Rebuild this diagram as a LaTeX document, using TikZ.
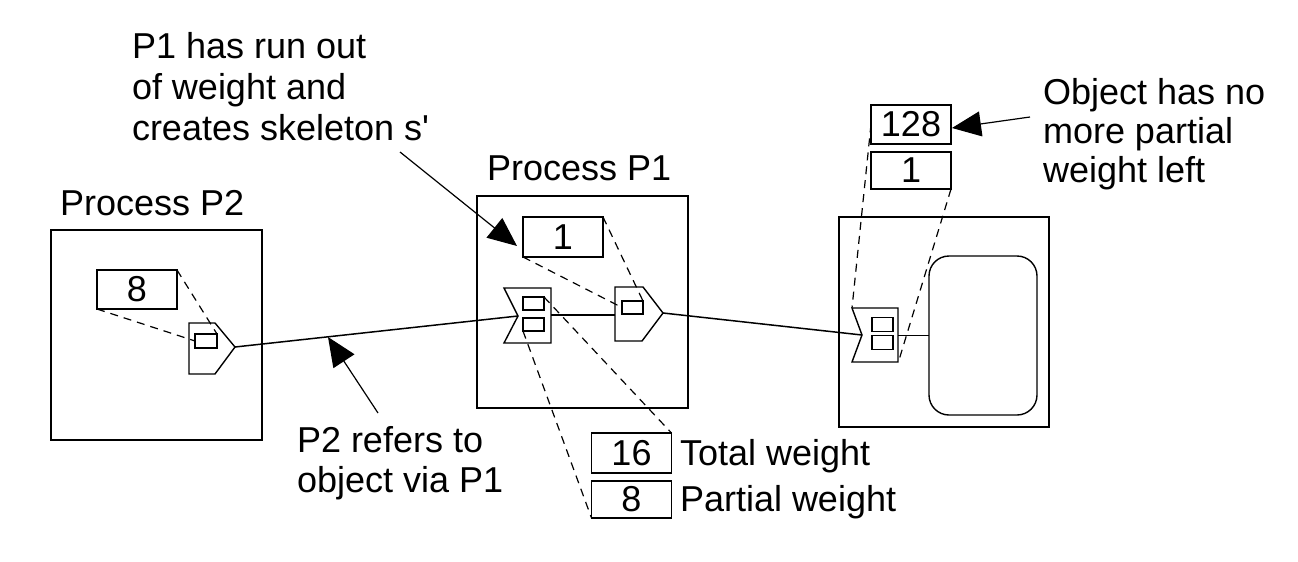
\documentclass[tikz,border=0pt]{standalone}
\usepackage{fontspec}
\setmainfont{Liberation Sans}
\usetikzlibrary{arrows.meta}
\begin{document}
\begin{tikzpicture}[x=1pt,y=-1pt,
  txt/.style={inner sep=0pt, outer sep=0pt, anchor=base west, font=\fontsize{36}{40}\selectfont},
  proc/.style={draw, line width=1.6pt, inner sep=0pt, outer sep=0pt, anchor=north west},
  valbox/.style={draw, line width=1.5pt, inner sep=0pt, outer sep=0pt, minimum width=80pt, font=\fontsize{36}{40}\selectfont},
  sref/.style={draw, line width=1.4pt, line join=miter},
  srect/.style={draw, line width=1.3pt, inner sep=0pt, outer sep=0pt, minimum width=21pt, minimum height=13pt},
  conn/.style={line width=1.5pt},
  dsh/.style={line width=1.2pt, dash pattern=on 8pt off 6pt},
  lbl/.style={line width=1.2pt, -{Triangle[length=29pt,width=25pt]}}
]
\useasboundingbox (0,0) rectangle (1298,562);
\fill[white] (0,0) rectangle (1298,562);

% process boxes
\node[proc, minimum width=211pt, minimum height=210pt] (P2) at (51,230) {};
\node[proc, minimum width=211pt, minimum height=212pt] (P1) at (477,196) {};
\node[proc, minimum width=210pt, minimum height=210pt] (OB) at (839,217) {};
\node[draw, line width=1.4pt, rounded corners=20pt, minimum width=108pt, minimum height=159pt, anchor=north west, inner sep=0pt, outer sep=0pt] (obj) at (929,256) {};

% value boxes
\node[valbox, minimum height=39pt] (v8) at (137,289.5) {8};
\node[valbox, minimum height=40pt] (v1) at (563,237) {1};
\node[valbox, minimum height=40pt] (v16) at (631.5,453) {16};
\node[valbox, minimum height=37pt] (v8b) at (631.5,499.5) {8};
\node[valbox, minimum height=39pt] (v128) at (911,124.5) {128};
\node[valbox, minimum height=37pt] (v1b) at (911,170.5) {1};

% P2 stub
\coordinate (p2tip) at (235,347);
\draw[sref] (189,323) -- (215,323) -- (p2tip) -- (215,374) -- (189,374) -- cycle;
\node[srect, minimum width=22pt, minimum height=14pt] (p2r) at (206,341) {};

% P1 scion
\coordinate (p1notch) at (518,316);
\coordinate (p1scE) at (551,315);
\draw[sref] (504,288) -- (551,288) -- (551,343) -- (504,343) -- (p1notch) -- cycle;
\node[srect] (p1ru) at (533.5,303.5) {};
\node[srect] (p1rl) at (533.5,324.5) {};

% P1 stub
\coordinate (p1stW) at (615,315);
\coordinate (p1tip) at (663,313);
\draw[sref] (615,287) -- (643,287) -- (p1tip) -- (642,341) -- (615,341) -- cycle;
\node[srect] (p1sr) at (632.5,307.5) {};

% object scion
\coordinate (obnotch) at (862,335);
\coordinate (obscE) at (898,335.5);
\coordinate (obNW) at (852,308);
\coordinate (obSE) at (899,360);
\draw[sref] (852,308) -- (898,308) -- (898,362) -- (852,362) -- (obnotch) -- cycle;
\node[srect, minimum height=14pt] (obru) at (882.5,324.5) {};
\node[srect, minimum height=14pt] (obrl) at (882.5,342.5) {};

% connectors
\draw[conn] (p2tip) -- (p1notch);
\draw[conn] (p1scE) -- (p1stW);
\draw[conn] (p1tip) -- (obnotch);
\draw[conn] (obscE) -- (obj.west);

% dashed
\draw[dsh] (v8.north east) -- (p2r.north east);
\draw[dsh] (v8.south west) -- (p2r.west);
\draw[dsh] (v1.north east) -- (p1sr.north east);
\draw[dsh] (v1.south west) -- (p1sr.west);
\draw[dsh] (p1ru.north east) -- (v16.north east);
\draw[dsh] (p1rl.south west) -- (v8b.south west);
\draw[dsh] (v128.west) -- (obNW);
\draw[dsh] (v1b.south east) -- (obSE);

% texts
\node[txt] (tP2) at (60,215) {Process P2};
\node[txt] (tP1) at (487,180) {Process P1};
\node[txt] (n1a) at (132,58) {P1 has run out};
\node[txt] (n1b) at (132,99) {of weight and};
\node[txt] (n1c) at (132,140) {creates skeleton s\textquotesingle};
\node[txt] (n2a) at (1043,104) {Object has no};
\node[txt] (n2b) at (1043,143) {more partial};
\node[txt] (n2c) at (1043,182) {weight left};
\node[txt] (n3a) at (297,452) {P2 refers to};
\node[txt] (n3b) at (297,492) {object via P1};
\node[txt] (n4) at (680,465) {Total weight};
\node[txt] (n5) at (680,511) {Partial weight};

% label arrows
\coordinate (a1s) at (400,152); \coordinate (a1e) at (517,246);
\draw[lbl] (a1s) -- (a1e);
\coordinate (a2s) at (378,413); \coordinate (a2e) at (328,337);
\draw[lbl] (a2s) -- (a2e);
\coordinate (a3s) at (1030,117); \coordinate (a3e) at (952,128);
\draw[lbl] (a3s) -- (a3e);
\end{tikzpicture}
\end{document}
